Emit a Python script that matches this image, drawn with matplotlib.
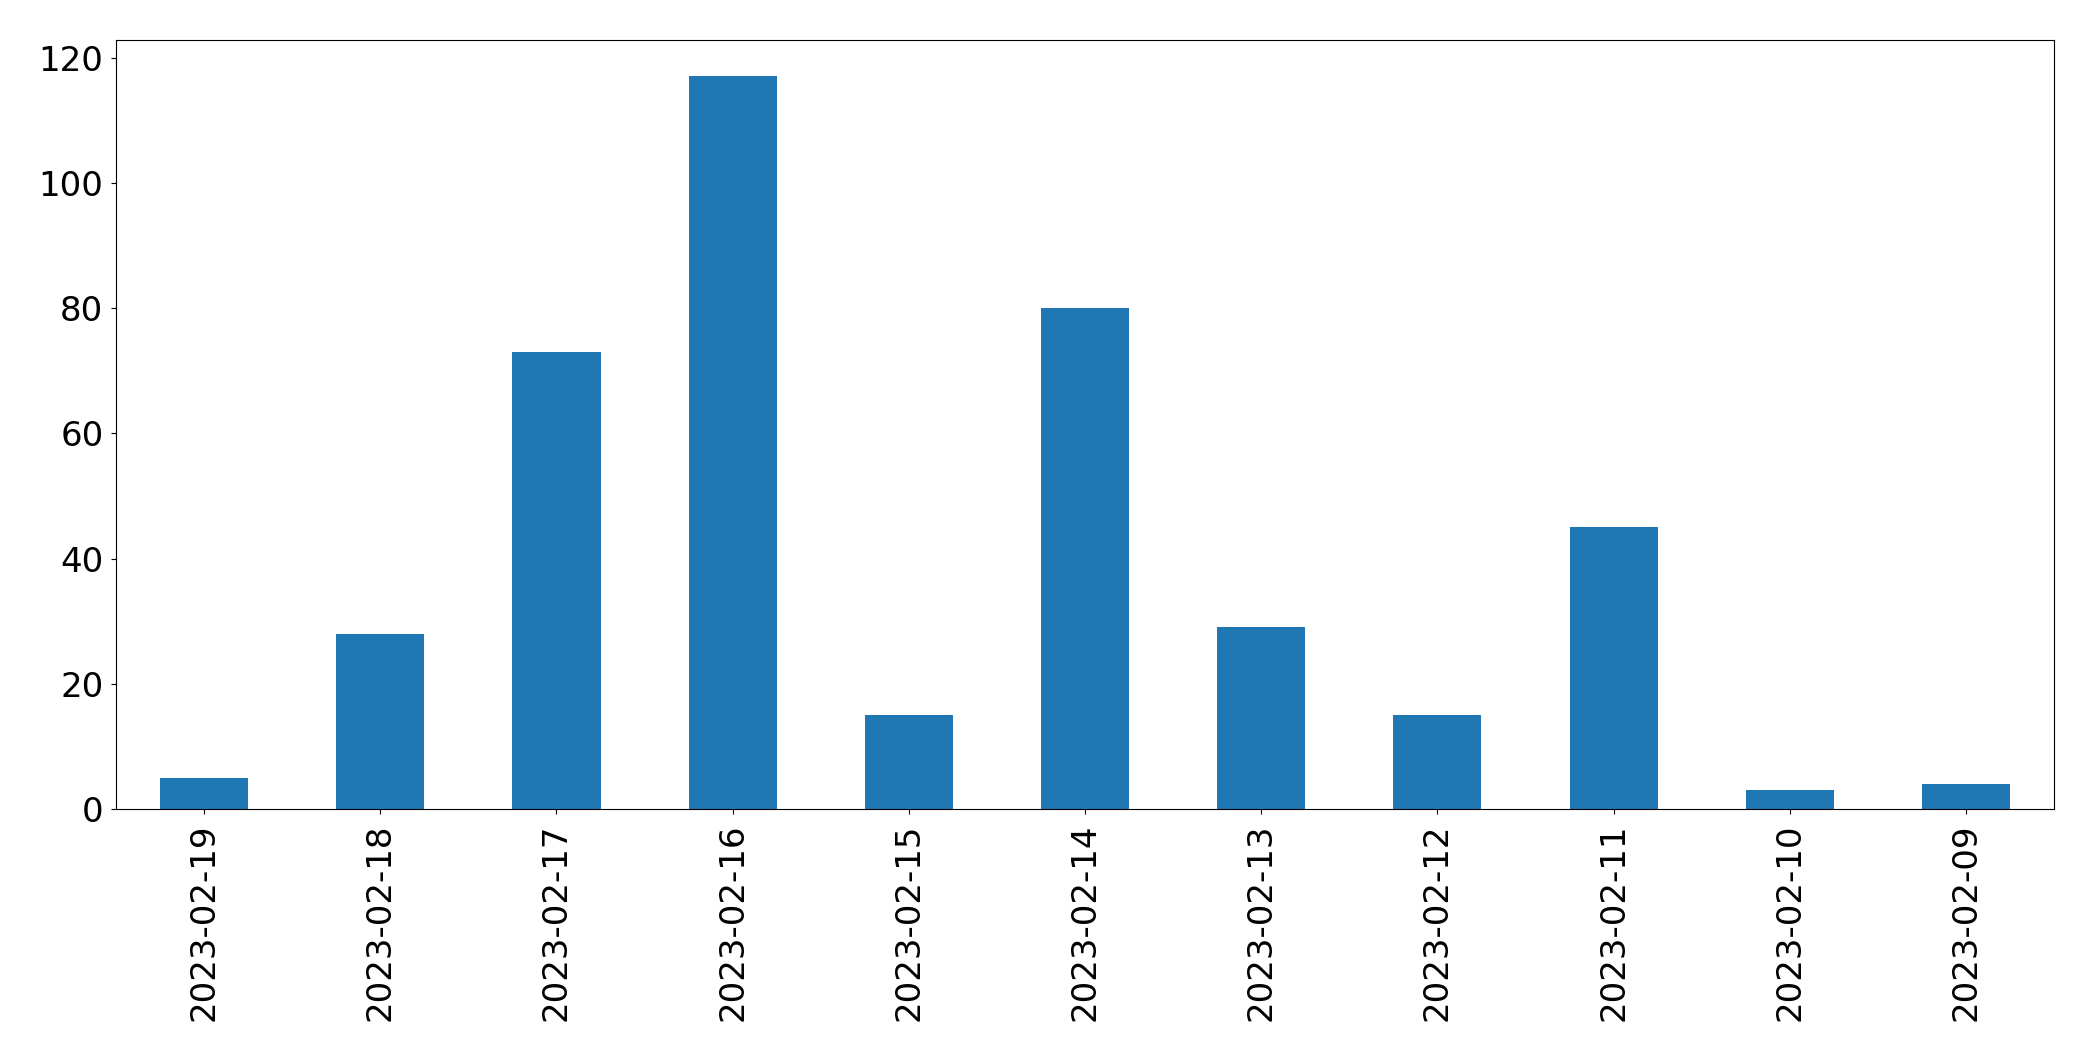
import matplotlib
matplotlib.use('Agg')
import matplotlib.pyplot as plt
import pandas as pd

dates = ['2023-02-19', '2023-02-18', '2023-02-17', '2023-02-16', '2023-02-15',
         '2023-02-14', '2023-02-13', '2023-02-12', '2023-02-11', '2023-02-10',
         '2023-02-09']
counts = [5, 28, 73, 117, 15, 80, 29, 15, 45, 3, 4]

s = pd.Series(counts, index=dates)

fig = plt.figure(figsize=(20.93, 10.61), dpi=100)
ax = fig.add_axes([116 / 2093, 1 - 809 / 1061, (2054 - 116) / 2093, (809 - 39.7) / 1061])
s.plot.bar(ax=ax, color='#1f77b4', width=0.5)
ax.tick_params(axis='both', labelsize=24.5)
ax.tick_params(axis='x', pad=7)
ax.tick_params(axis='y', pad=5.5)

fig.savefig('out.png', dpi=100)
